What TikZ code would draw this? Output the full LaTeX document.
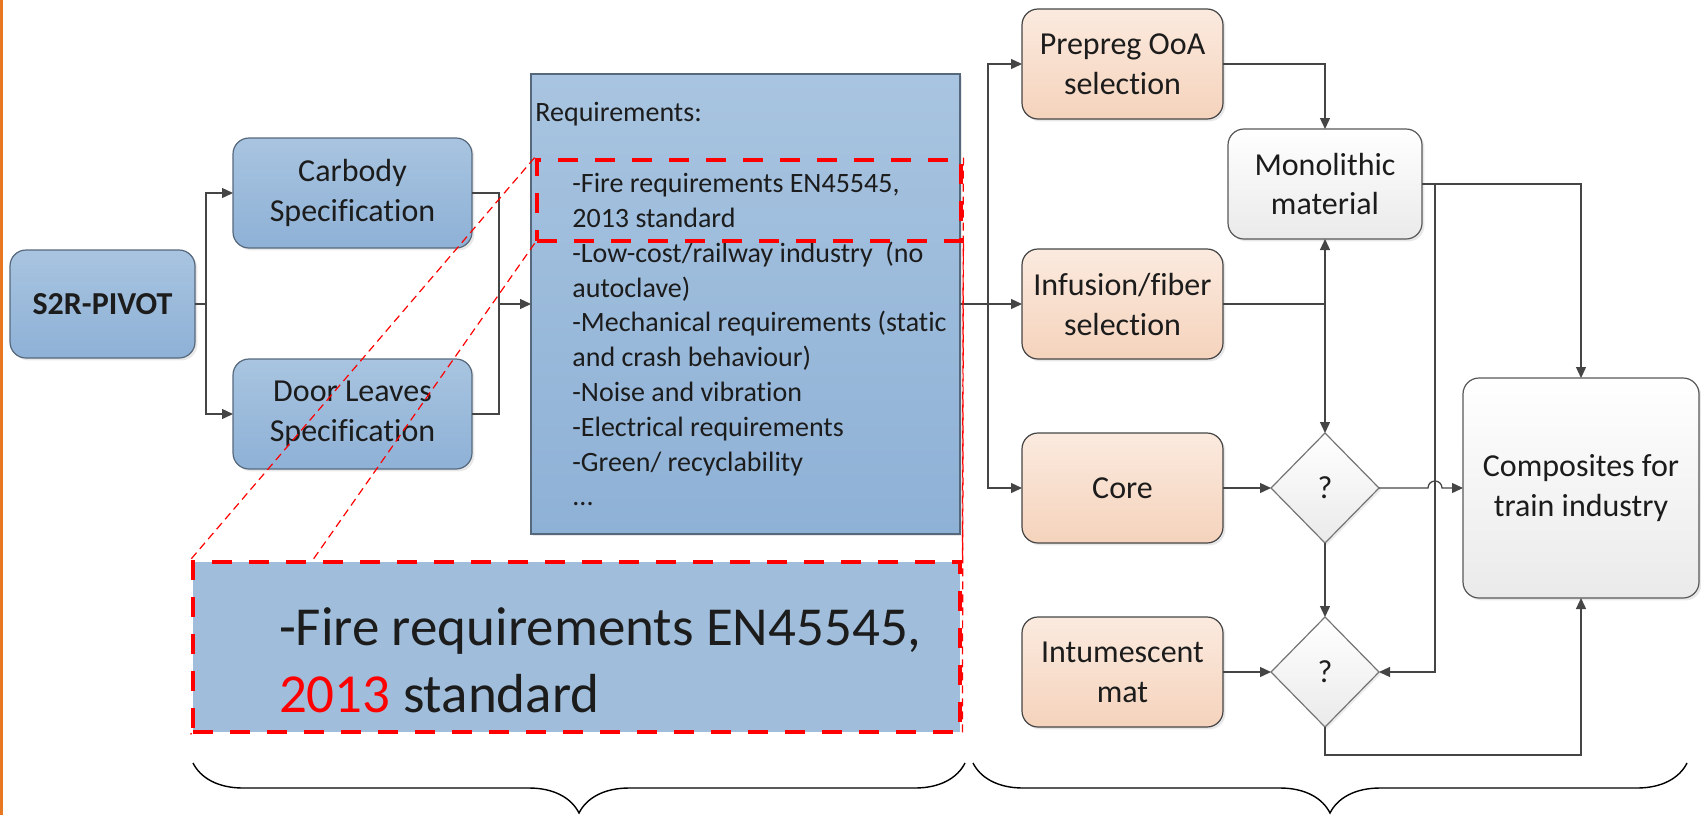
\documentclass[tikz,border=0pt]{standalone}
\usepackage{fontspec}
\setmainfont{Carlito}[Ligatures=CommonOff]
\usetikzlibrary{arrows.meta,positioning,shapes.geometric,shadows,decorations.pathreplacing}

\definecolor{blueT}{HTML}{A8C4E0}
\definecolor{blueB}{HTML}{8EB1D6}
\definecolor{blueline}{HTML}{56687C}
\definecolor{peachT}{HTML}{FBEADF}
\definecolor{peachB}{HTML}{F5D3BC}
\definecolor{greyT}{HTML}{FFFFFF}
\definecolor{greyB}{HTML}{EAEAEA}
\definecolor{flowline}{HTML}{454545}
\definecolor{zoomblue}{HTML}{A0BEDB}
\definecolor{barorange}{HTML}{E87722}
\definecolor{txt}{HTML}{1C1C1C}

\pgfdeclarelayer{front}
\pgfsetlayers{main,front}

\tikzset{
  procbox/.style={draw=flowline, line width=0.6pt, rounded corners=8pt, align=center,
    text=txt, font=\fontsize{16}{20}\selectfont, inner sep=2pt, outer sep=0pt,
    drop shadow={opacity=0.18, shadow xshift=1.2pt, shadow yshift=-1.2pt}},
  bluebox/.style={procbox, draw=blueline, top color=blueT, bottom color=blueB},
  orangebox/.style={procbox, top color=peachT, bottom color=peachB,
    minimum width=100.5pt, minimum height=55pt},
  greybox/.style={procbox, draw=flowline!90, top color=greyT, bottom color=greyB},
  decision/.style={diamond, aspect=1, draw=flowline!75, line width=0.6pt, outer sep=0pt,
    top color=greyT, bottom color=greyB, minimum width=54pt, minimum height=55pt,
    inner sep=0pt, text=txt, font=\fontsize{16}{20}\selectfont,
    drop shadow={opacity=0.15, shadow xshift=1pt, shadow yshift=-1pt}},
  reqtext/.style={anchor=north west, align=left, inner sep=0pt, text=txt,
    font=\fontsize{14}{17.4}\selectfont},
  redframe/.style={draw=red, line width=2.4pt, dash pattern=on 10pt off 8.5pt},
  redguide/.style={draw=red, line width=0.6pt, dash pattern=on 4pt off 2.5pt},
  flow/.style={draw=flowline, line width=0.65pt},
  bracket/.style={draw=black, line width=0.7pt, decorate,
    decoration={brace, mirror, amplitude=25pt}}
}

\begin{document}
\begin{tikzpicture}[x=0.5pt,y=-0.5pt,>={Triangle[length=5.5pt,width=5pt]}]
  \useasboundingbox (0,0) rectangle (1701,815);
  \fill[barorange] (0,0) rectangle (3,815);

  % left part
  \node[bluebox, minimum width=92.5pt, minimum height=54pt, font=\fontsize{16}{20}\selectfont\bfseries] (s2r) at (102.5,304) {S2R-PIVOT};
  \node[bluebox, minimum width=119.5pt, minimum height=55pt] (carbody) at (352.5,193) {Carbody\\Specification};
  \node[bluebox, minimum width=119.5pt, minimum height=55pt] (door) [below=55.5pt of carbody] {Door Leaves\\Specification};

  \node[bluebox, rounded corners=0pt, minimum width=214.5pt, minimum height=230pt] (req) at (745.5,304) {};
  \node[reqtext] (reqhead) at (535,102) {Requirements:};
  \node[reqtext] (reqlist) at (572,173)
    {-Fire requirements EN45545,\\
     2013 standard\\
     -Low-cost/railway industry\ \ (no\\
     autoclave)\\
     -Mechanical requirements (static\\
     and crash behaviour)\\
     -Noise and vibration\\
     -Electrical requirements\\
     -Green/ recyclability\\
     ...};

  % right part
  \node[orangebox] (prepreg) at (1122.5,64) {Prepreg OoA\\selection};
  \node[orangebox] (infusion) [below=65pt of prepreg] {Infusion/fiber\\selection};
  \node[orangebox] (core) [below=37pt of infusion] {Core};
  \node[orangebox] (intum) [below=37pt of core] {Intumescent\\mat};
  \node[greybox, minimum width=97pt, minimum height=55pt] (mono) at (1325,184) {Monolithic\\material};
  \node[decision] (q1) at (mono |- core) {?};
  \node[decision] (q2) at (mono |- intum) {?};
  \node[greybox, minimum width=118pt, minimum height=110pt] (comp) [right=42pt of q1] {Composites for\\train industry};

  \coordinate (split1) at (206,304);
  \coordinate (join1) at (499,304);
  \coordinate (split2) at (988,304);
  \coordinate (join2) at (mono |- infusion);
  \coordinate (split3) at (1435,184);
  \coordinate (hop) at (1428,488);
  \coordinate (loop) at (1325,755);

  \draw[flow] (s2r.east) -- (split1);
  \draw[flow,->] (split1) |- (carbody.west);
  \draw[flow,->] (split1) |- (door.west);
  \draw[flow] (carbody.east) -| (join1) |- (door.east);
  \draw[flow,->] (join1) -- (req.west);
  \draw[flow,->] (req.east) -- (infusion.west);
  \draw[flow,->] (split2) |- (prepreg.west);
  \draw[flow,->] (split2) |- (core.west);
  \draw[flow,->] (prepreg.east) -| (mono.north);
  \draw[flow] (infusion.east) -- (join2);
  \draw[flow,->] (join2) -- (mono.south);
  \draw[flow,->] (join2) -- (q1.north);
  \draw[flow,->] (mono.east) -| (comp.north);
  \draw[flow,->] (split3) |- (q2.east);
  \draw[flow,->] (core.east) -- (q1.west);
  \draw[flow,->] (intum.east) -- (q2.west);
  \draw[flow,->] (q1.south) -- (q2.north);
  \draw[flow,->] (q1.east) -- (hop) arc[start angle=180, end angle=0, radius=3.5pt] -- (comp.west);
  \draw[flow,->] (q2.south) -- (loop) -| (comp.south);

  % zoom on the fire requirement
  \node[redframe, minimum width=212pt, minimum height=40.5pt, inner sep=0pt] (zoomsrc) at (749,200.5) {};
  \begin{pgfonlayer}{front}
    \node[fill=zoomblue, redframe, minimum width=383.5pt, minimum height=85pt, inner sep=0pt] (zoombox) at (576.5,647) {};
    \node[anchor=west, align=left, text=txt, font=\fontsize{27.5}{33.5}\selectfont] (zoomtext) at (272,660)
      {-Fire requirements EN45545,\\{\color{red}2013} standard};
  \end{pgfonlayer}
  \draw[redguide] (zoomsrc.north west) -- (zoombox.north west);
  \draw[redguide] (zoomsrc.south west) -- (zoombox.south west);
  \draw[redguide] (zoomsrc.north east) -- (zoombox.north east);
  \draw[redguide] (zoomsrc.south east) -- (zoombox.south east);

  % braces
  \coordinate (b1l) at (193,763);
  \coordinate (b1r) at (965,763);
  \coordinate (b2l) at (973,763);
  \coordinate (b2r) at (1687,763);
  \draw[bracket] (b1l) -- (b1r);
  \draw[bracket] (b2l) -- (b2r);
\end{tikzpicture}
\end{document}
